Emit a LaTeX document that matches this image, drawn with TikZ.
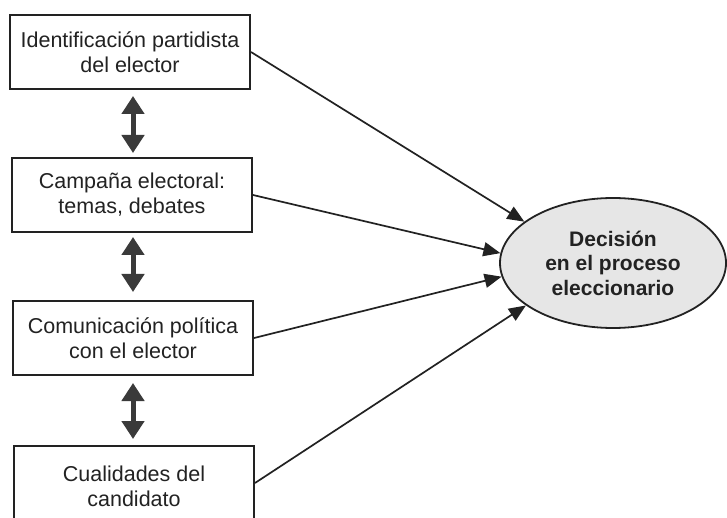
\documentclass[tikz,border=0pt]{standalone}
\usepackage{fontspec}
\setmainfont{Liberation Sans}
\usetikzlibrary{arrows.meta,shapes.geometric}
\definecolor{ink}{HTML}{222222}
\definecolor{darr}{HTML}{3A3A3A}
\definecolor{ellfill}{HTML}{E6E6E6}
\tikzset{
  factortext/.style={align=center, text=ink, font=\fontsize{21.5}{25}\selectfont, inner sep=0pt},
  factor/.style={factortext, draw=ink, line width=2pt, minimum width=240pt, minimum height=74pt},
  goal/.style={ellipse, draw=ink, line width=1.8pt, fill=ellfill, minimum width=226pt,
    minimum height=130pt, align=center, text=ink,
    font=\bfseries\fontsize{21}{24.5}\selectfont, inner sep=0pt},
  influence/.style={draw=ink, line width=1.7pt, -{Triangle[length=17pt,width=14pt]}},
  mutual/.style={draw=darr, line width=5pt,
    {Triangle[length=18pt,width=22pt]}-{Triangle[length=18pt,width=22pt]}},
}
\begin{document}
\begin{tikzpicture}[x=1pt,y=-1pt]
\useasboundingbox (0,0) rectangle (727,518);
\clip (0,0) rectangle (727,518);
\fill[white] (0,0) rectangle (727,518);
\node[factor] (b1) at (130,52) {Identificación partidista\\del elector};
\node[factor] (b2) at (132,195) {Campaña electoral:\\temas, debates};
\node[factor] (b3) at (133,338) {Comunicación política\\con el elector};
\node[factor] (b4) at (134,483) {};
\node[factortext] (b4t) at (134,486) {Cualidades del\\candidato};
\node[goal] (g) at (613,263) {Decisión\\en el proceso\\eleccionario};
\draw[influence] (b1.east) -- (g.155);
\draw[influence] (b2.east) -- (g.175);
\draw[influence] (b3.east) -- (g.187);
\draw[influence] (b4.east) -- (g.206);
\draw[mutual, shorten <=6pt, shorten >=4pt] ([xshift=3pt]b1.south) -- ([xshift=1pt]b2.north);
\draw[mutual, shorten <=4pt, shorten >=8pt] ([xshift=1pt]b2.south) -- ([xshift=0pt]b3.north);
\draw[mutual, shorten <=7pt, shorten >=6pt] ([xshift=0pt]b3.south) -- ([xshift=-1pt]b4.north);
\end{tikzpicture}
\end{document}
